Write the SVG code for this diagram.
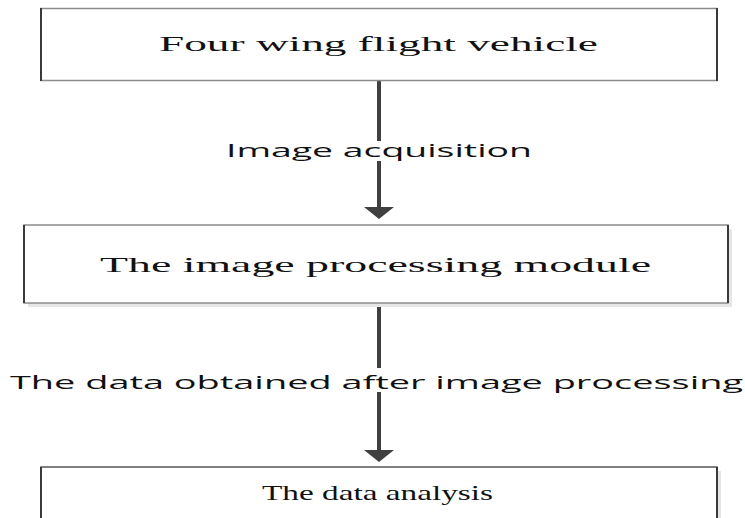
<svg xmlns="http://www.w3.org/2000/svg" width="745" height="518" viewBox="0 0 745 518">
<style>
.box{fill:#fff;stroke:#8c8c8c;stroke-width:1.5}
.side{stroke:#3a3a3a;stroke-width:2}
.shadow{fill:#e6e6e6}
.ntext{font-family:"Liberation Serif","Times New Roman",serif;font-size:21px;fill:#111}
.ltext{font-family:"Open Sans","Liberation Sans",sans-serif;font-size:19px;fill:#111}
.conn{stroke:#404040;stroke-width:4;fill:none}
.head{fill:#404040}
</style>
<rect width="745" height="518" fill="#fff"/>
<g id="connectors">
  <line class="conn" x1="379" y1="81" x2="379" y2="141"/>
  <line class="conn" x1="379" y1="161" x2="379" y2="209"/>
  <polygon class="head" points="364,207 394,207 379,219"/>
  <line class="conn" x1="379" y1="303" x2="379" y2="452"/>
  <polygon class="head" points="364,450 394,450 379,462"/>
  <rect x="8" y="368" width="737" height="24" fill="#fff"/>
  <text class="ltext" x="226" y="157" textLength="306" lengthAdjust="spacingAndGlyphs">Image acquisition</text>
  <text class="ltext" x="10" y="389" textLength="733" lengthAdjust="spacingAndGlyphs">The data obtained after image processing</text>
</g>
<g id="node1">
  <rect class="box" x="41" y="8.5" width="676" height="72"/>
  <line class="side" x1="41" y1="8" x2="41" y2="81"/>
  <line class="side" x1="717" y1="8" x2="717" y2="81"/>
  <text class="ntext" x="159" y="51" textLength="439" lengthAdjust="spacingAndGlyphs">Four wing flight vehicle</text>
</g>
<g id="node2">
  <rect class="shadow" x="28" y="229" width="704" height="78"/>
  <rect class="box" x="24" y="225" width="704" height="78"/>
  <line class="side" x1="24" y1="225" x2="24" y2="303"/>
  <line class="side" x1="728" y1="225" x2="728" y2="303"/>
  <text class="ntext" x="100" y="272" textLength="551" lengthAdjust="spacingAndGlyphs">The image processing module</text>
</g>
<g id="node3">
  <rect class="shadow" x="45" y="471" width="676" height="60"/>
  <rect class="box" x="41" y="467" width="676" height="60" style="stroke:#555"/>
  <line class="side" x1="41" y1="467" x2="41" y2="518"/>
  <line class="side" x1="717" y1="467" x2="717" y2="518"/>
  <text class="ntext" x="262" y="500" textLength="231" lengthAdjust="spacingAndGlyphs">The data analysis</text>
</g>
</svg>
